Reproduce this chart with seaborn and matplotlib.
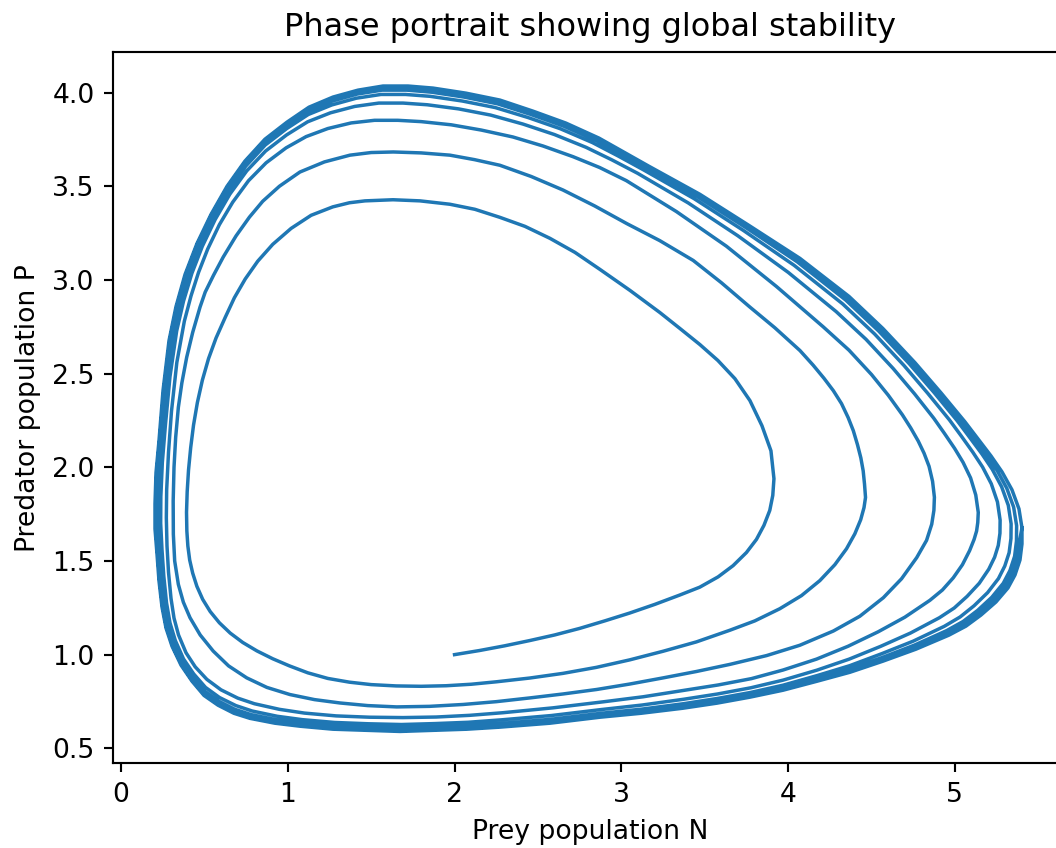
import numpy as np
import pandas as pd
import matplotlib
matplotlib.use("Agg")
import matplotlib.pyplot as plt
import seaborn as sns

# ---- trajectory: (prey N, predator P) ----
start_arc = [(2.00, 1.000), (2.15, 1.022), (2.30, 1.047), (2.45, 1.075), (2.60, 1.105), (2.75, 1.140),
             (2.90, 1.180), (3.05, 1.222), (3.20, 1.268), (3.35, 1.318), (3.47, 1.360), (3.58, 1.415),
             (3.67, 1.475), (3.75, 1.545), (3.81, 1.615), (3.855, 1.690), (3.89, 1.770), (3.908, 1.850)]

loop1 = [(3.915, 1.939), (3.897, 2.088), (3.843, 2.222), (3.771, 2.356), (3.681, 2.473), (3.579, 2.570),
         (3.471, 2.655), (3.351, 2.741), (3.231, 2.826), (3.052, 2.944), (2.872, 3.056), (2.722, 3.147),
         (2.572, 3.222), (2.422, 3.286), (2.272, 3.334), (2.122, 3.377), (1.972, 3.404), (1.793, 3.422),
         (1.631, 3.428), (1.463, 3.422), (1.370, 3.412), (1.270, 3.390), (1.140, 3.345), (1.020, 3.275),
         (0.910, 3.190), (0.820, 3.100), (0.745, 3.005), (0.680, 2.905), (0.625, 2.800), (0.570, 2.690),
         (0.525, 2.580), (0.488, 2.465), (0.458, 2.345), (0.435, 2.225), (0.418, 2.105), (0.405, 1.985),
         (0.397, 1.870), (0.393, 1.760), (0.395, 1.660), (0.401, 1.580), (0.412, 1.505), (0.430, 1.435),
         (0.455, 1.365), (0.490, 1.295), (0.535, 1.230), (0.590, 1.170), (0.655, 1.115), (0.730, 1.065),
         (0.815, 1.020), (0.910, 0.978), (1.010, 0.940), (1.120, 0.903), (1.240, 0.873), (1.370, 0.853),
         (1.500, 0.840), (1.650, 0.833), (1.800, 0.831), (1.950, 0.834), (2.100, 0.842), (2.250, 0.855),
         (2.450, 0.875), (2.650, 0.900), (2.850, 0.932), (3.050, 0.972), (3.250, 1.018), (3.450, 1.068),
         (3.650, 1.130), (3.800, 1.180), (3.950, 1.245), (4.080, 1.315), (4.190, 1.395), (4.280, 1.480),
         (4.350, 1.565), (4.400, 1.645), (4.435, 1.720), (4.455, 1.785)]

loop2 = [(4.464, 1.839), (4.458, 1.910), (4.450, 1.981), (4.436, 2.050), (4.416, 2.120), (4.391, 2.195),
         (4.360, 2.265), (4.320, 2.340), (4.271, 2.409), (4.215, 2.475), (4.150, 2.545), (4.071, 2.623),
         (3.920, 2.745), (3.771, 2.855), (3.600, 2.985), (3.431, 3.104), (3.230, 3.210), (3.032, 3.301),
         (2.840, 3.395), (2.650, 3.480), (2.460, 3.552), (2.272, 3.612), (2.120, 3.642), (1.972, 3.666),
         (1.800, 3.678), (1.633, 3.683), (1.500, 3.680), (1.373, 3.666), (1.220, 3.630), (1.073, 3.576),
         (0.950, 3.500), (0.850, 3.420), (0.770, 3.335), (0.690, 3.235), (0.613, 3.122), (0.555, 3.025),
         (0.505, 2.935), (0.474, 2.855), (0.430, 2.720), (0.394, 2.587), (0.365, 2.450), (0.344, 2.320),
         (0.328, 2.160), (0.318, 2.000), (0.313, 1.820), (0.314, 1.643), (0.322, 1.500), (0.344, 1.375),
         (0.374, 1.280), (0.414, 1.197), (0.475, 1.105), (0.553, 1.019), (0.645, 0.940), (0.754, 0.876),
         (0.875, 0.825), (1.013, 0.787), (1.160, 0.760), (1.313, 0.742), (1.480, 0.728), (1.653, 0.721),
         (1.850, 0.724), (2.052, 0.734), (2.250, 0.749), (2.452, 0.769), (2.650, 0.790), (2.852, 0.814),
         (3.050, 0.843), (3.251, 0.876), (3.450, 0.910), (3.651, 0.948), (3.871, 0.995), (4.070, 1.050),
         (4.271, 1.126), (4.430, 1.205), (4.571, 1.304), (4.680, 1.405), (4.771, 1.518), (4.830, 1.610),
         (4.861, 1.696), (4.874, 1.770)]

loop3 = [(4.877, 1.840), (4.866, 1.925), (4.845, 2.005), (4.815, 2.075), (4.780, 2.140), (4.735, 2.210),
         (4.685, 2.280), (4.600, 2.385), (4.500, 2.495), (4.365, 2.625), (4.210, 2.750), (3.930, 2.965),
         (3.630, 3.180), (3.330, 3.365), (3.030, 3.530), (2.870, 3.600), (2.710, 3.658), (2.530, 3.715),
         (2.350, 3.763), (2.160, 3.800), (1.980, 3.828), (1.800, 3.845), (1.660, 3.852), (1.520, 3.852),
         (1.380, 3.838), (1.240, 3.808), (1.110, 3.765), (0.990, 3.705), (0.870, 3.625), (0.765, 3.530),
         (0.670, 3.415), (0.590, 3.295), (0.520, 3.165), (0.465, 3.040), (0.420, 2.915), (0.380, 2.780),
         (0.335, 2.560), (0.303, 2.300), (0.285, 2.080), (0.274, 1.880), (0.272, 1.730), (0.276, 1.580),
         (0.285, 1.440), (0.300, 1.300), (0.318, 1.195), (0.345, 1.105), (0.390, 1.010), (0.445, 0.935),
         (0.515, 0.868), (0.600, 0.812), (0.700, 0.768), (0.800, 0.738), (0.950, 0.708), (1.100, 0.688),
         (1.290, 0.673), (1.490, 0.666), (1.690, 0.664), (1.890, 0.667), (2.090, 0.676), (2.290, 0.690),
         (2.590, 0.716), (2.890, 0.748), (3.130, 0.775), (3.380, 0.810), (3.580, 0.838), (3.780, 0.872),
         (3.970, 0.918), (4.170, 0.976), (4.360, 1.045), (4.540, 1.122), (4.700, 1.200), (4.850, 1.290),
         (4.925, 1.345), (4.990, 1.410), (5.045, 1.480), (5.088, 1.555), (5.115, 1.615), (5.130, 1.660),
         (5.137, 1.705)]

loop4 = [(5.140, 1.759), (5.125, 1.852), (5.094, 1.943), (5.049, 2.026), (4.998, 2.101), (4.937, 2.181),
         (4.873, 2.262), (4.758, 2.392), (4.630, 2.527), (4.467, 2.683), (4.288, 2.831), (4.001, 3.040),
         (3.698, 3.236), (3.401, 3.411), (3.098, 3.569), (2.943, 3.641), (2.788, 3.708), (2.599, 3.776),
         (2.410, 3.832), (2.216, 3.880), (2.024, 3.913), (1.836, 3.935), (1.691, 3.944), (1.546, 3.944),
         (1.401, 3.926), (1.256, 3.892), (1.119, 3.844), (0.993, 3.774), (0.867, 3.688), (0.754, 3.582),
         (0.653, 3.458), (0.565, 3.323), (0.488, 3.180), (0.425, 3.035), (0.375, 2.887), (0.334, 2.728),
         (0.294, 2.485), (0.266, 2.221), (0.248, 2.026), (0.239, 1.843), (0.238, 1.701), (0.246, 1.559),
         (0.257, 1.417), (0.273, 1.277), (0.294, 1.169), (0.326, 1.075), (0.375, 0.977), (0.436, 0.897),
         (0.507, 0.825), (0.591, 0.771), (0.689, 0.728), (0.787, 0.699), (0.937, 0.671), (1.087, 0.653),
         (1.281, 0.638), (1.483, 0.631), (1.682, 0.627), (1.881, 0.632), (2.082, 0.639), (2.281, 0.652),
         (2.581, 0.675), (2.881, 0.707), (3.124, 0.731), (3.375, 0.762), (3.577, 0.790), (3.776, 0.823),
         (3.970, 0.864), (4.172, 0.917), (4.366, 0.976), (4.554, 1.044), (4.733, 1.115), (4.907, 1.197),
         (4.996, 1.249), (5.073, 1.311), (5.146, 1.381), (5.203, 1.456), (5.238, 1.520), (5.260, 1.583),
         (5.270, 1.648)]

loop5 = [(5.271, 1.718), (5.255, 1.815), (5.218, 1.912), (5.166, 2.001), (5.107, 2.081), (5.038, 2.167),
         (4.967, 2.253), (4.837, 2.395), (4.695, 2.543), (4.518, 2.712), (4.327, 2.872), (4.036, 3.078),
         (3.732, 3.264), (3.436, 3.434), (3.132, 3.588), (2.980, 3.662), (2.827, 3.733), (2.634, 3.807),
         (2.440, 3.867), (2.244, 3.920), (2.046, 3.955), (1.854, 3.980), (1.706, 3.990), (1.559, 3.990),
         (1.411, 3.970), (1.264, 3.934), (1.123, 3.883), (0.994, 3.808), (0.865, 3.720), (0.749, 3.608),
         (0.645, 3.479), (0.553, 3.337), (0.472, 3.188), (0.405, 3.032), (0.353, 2.873), (0.311, 2.702),
         (0.273, 2.447), (0.247, 2.182), (0.229, 1.999), (0.222, 1.824), (0.221, 1.686), (0.231, 1.548),
         (0.243, 1.405), (0.260, 1.266), (0.282, 1.156), (0.316, 1.060), (0.368, 0.961), (0.431, 0.878),
         (0.503, 0.804), (0.587, 0.751), (0.683, 0.708), (0.780, 0.680), (0.930, 0.653), (1.080, 0.636),
         (1.276, 0.620), (1.479, 0.614), (1.678, 0.609), (1.876, 0.614), (2.078, 0.621), (2.277, 0.633),
         (2.577, 0.655), (2.877, 0.687), (3.121, 0.709), (3.372, 0.738), (3.575, 0.766), (3.774, 0.798),
         (3.970, 0.837), (4.173, 0.888), (4.369, 0.941), (4.561, 1.005), (4.750, 1.072), (4.936, 1.151),
         (5.031, 1.201), (5.115, 1.261), (5.196, 1.331), (5.261, 1.406), (5.299, 1.473), (5.325, 1.544),
         (5.336, 1.620)]

loop6 = [(5.337, 1.698), (5.320, 1.797), (5.280, 1.896), (5.224, 1.989), (5.162, 2.071), (5.088, 2.160),
         (5.014, 2.248), (4.877, 2.397), (4.728, 2.551), (4.543, 2.727), (4.346, 2.892), (4.054, 3.097),
         (3.749, 3.278), (3.454, 3.446), (3.149, 3.598), (2.998, 3.672), (2.847, 3.745), (2.651, 3.822),
         (2.455, 3.884), (2.258, 3.940), (2.057, 3.976), (1.863, 4.002), (1.714, 4.013), (1.565, 4.013),
         (1.416, 3.992), (1.268, 3.955), (1.125, 3.903), (0.995, 3.825), (0.864, 3.736), (0.746, 3.621),
         (0.641, 3.490), (0.547, 3.344), (0.464, 3.192), (0.395, 3.031), (0.342, 2.866), (0.300, 2.689),
         (0.263, 2.428), (0.238, 2.162), (0.220, 1.985), (0.213, 1.815), (0.213, 1.679), (0.224, 1.543),
         (0.236, 1.399), (0.253, 1.260), (0.276, 1.149), (0.311, 1.053), (0.364, 0.953), (0.429, 0.868),
         (0.501, 0.793), (0.585, 0.741), (0.680, 0.698), (0.777, 0.670), (0.927, 0.644), (1.077, 0.627),
         (1.274, 0.611), (1.477, 0.605), (1.676, 0.600), (1.874, 0.605), (2.076, 0.612), (2.275, 0.623),
         (2.575, 0.645), (2.875, 0.677), (3.120, 0.698), (3.371, 0.726), (3.574, 0.754), (3.773, 0.786),
         (3.970, 0.824), (4.173, 0.873), (4.370, 0.924), (4.565, 0.985), (4.758, 1.051), (4.950, 1.128),
         (5.049, 1.177), (5.136, 1.236), (5.221, 1.306), (5.290, 1.381), (5.330, 1.449), (5.358, 1.525),
         (5.369, 1.606)]

loop7 = [(5.370, 1.688), (5.352, 1.788), (5.311, 1.888), (5.253, 1.983), (5.189, 2.066), (5.113, 2.156),
         (5.037, 2.246), (4.897, 2.398), (4.744, 2.555), (4.556, 2.734), (4.356, 2.902), (4.063, 3.106),
         (3.757, 3.285), (3.463, 3.452), (3.157, 3.603), (3.007, 3.677), (2.857, 3.751), (2.660, 3.830),
         (2.463, 3.893), (2.265, 3.950), (2.063, 3.987), (1.867, 4.013), (1.718, 4.024), (1.568, 4.024),
         (1.419, 4.003), (1.270, 3.966), (1.126, 3.913), (0.995, 3.834), (0.864, 3.744), (0.745, 3.628),
         (0.639, 3.495), (0.544, 3.347), (0.460, 3.194), (0.390, 3.030), (0.336, 2.862), (0.294, 2.683),
         (0.258, 2.419), (0.233, 2.152), (0.215, 1.978), (0.209, 1.810), (0.209, 1.675), (0.220, 1.540),
         (0.232, 1.396), (0.250, 1.257), (0.273, 1.146), (0.309, 1.049), (0.362, 0.949), (0.428, 0.863),
         (0.500, 0.788), (0.584, 0.736), (0.679, 0.693), (0.775, 0.665), (0.925, 0.639), (1.075, 0.623),
         (1.273, 0.607), (1.476, 0.601), (1.675, 0.595), (1.873, 0.601), (2.075, 0.607), (2.274, 0.618),
         (2.574, 0.640), (2.874, 0.672), (3.119, 0.693), (3.370, 0.720), (3.574, 0.748), (3.772, 0.780),
         (3.970, 0.817), (4.173, 0.866), (4.371, 0.915), (4.567, 0.975), (4.762, 1.040), (4.957, 1.116),
         (5.058, 1.165), (5.146, 1.224), (5.234, 1.294), (5.304, 1.369), (5.345, 1.437), (5.374, 1.515),
         (5.386, 1.599)]

limit_cycle = [(5.402, 1.677), (5.384, 1.778), (5.342, 1.880), (5.282, 1.976), (5.216, 2.061), (5.138, 2.152),
               (5.060, 2.243), (4.916, 2.398), (4.760, 2.559), (4.568, 2.741), (4.365, 2.912), (4.071, 3.115),
               (3.765, 3.291), (3.471, 3.457), (3.165, 3.607), (3.016, 3.682), (2.866, 3.757), (2.668, 3.837),
               (2.470, 3.901), (2.272, 3.960), (2.068, 3.997), (1.871, 4.024), (1.721, 4.035), (1.571, 4.035),
               (1.421, 4.013), (1.271, 3.976), (1.127, 3.922), (0.995, 3.842), (0.863, 3.751), (0.743, 3.634),
               (0.636, 3.500), (0.540, 3.350), (0.456, 3.195), (0.384, 3.029), (0.330, 2.858), (0.288, 2.676),
               (0.252, 2.409), (0.228, 2.142), (0.210, 1.971), (0.204, 1.805), (0.204, 1.671), (0.216, 1.537),
               (0.228, 1.393), (0.246, 1.254), (0.270, 1.142), (0.306, 1.045), (0.360, 0.944), (0.426, 0.858),
               (0.498, 0.782), (0.582, 0.730), (0.677, 0.687), (0.773, 0.660), (0.923, 0.634), (1.073, 0.618),
               (1.271, 0.602), (1.475, 0.596), (1.673, 0.590), (1.871, 0.596), (2.074, 0.602), (2.272, 0.613),
               (2.572, 0.634), (2.872, 0.666), (3.118, 0.687), (3.369, 0.714), (3.573, 0.741), (3.771, 0.773),
               (3.969, 0.810), (4.173, 0.858), (4.371, 0.906), (4.568, 0.965), (4.766, 1.029), (4.964, 1.104),
               (5.066, 1.152), (5.156, 1.211), (5.246, 1.281), (5.318, 1.356), (5.360, 1.425), (5.390, 1.505),
               (5.402, 1.591), (5.402, 1.677)]

x_ticks = [0, 1, 2, 3, 4, 5]
y_ticks = [0.5, 1.0, 1.5, 2.0, 2.5, 3.0, 3.5, 4.0]

title = "Phase portrait showing global stability"
x_label = "Prey population N"
y_label = "Predator population P"

# ---- assemble the continuous trajectory in time order ----
segments = [start_arc, loop1, loop2, loop3, loop4, loop5, loop6, loop7, limit_cycle]
points = [pt for seg in segments for pt in seg]
df = pd.DataFrame(points, columns=["N", "P"])
df["step"] = np.arange(len(df))

DPI = 192
W, H = 1056, 848
fig = plt.figure(figsize=(W / DPI, H / DPI), dpi=DPI)
ax = fig.add_axes([113.3 / W, (H - 763.3) / H, (1067 - 113.3) / W, (763.3 - 52.3) / H])

sns.lineplot(data=df, x="N", y="P", sort=False, estimator=None,
             color="#1f77b4", linewidth=1.3, ax=ax)

ax.set_xlim(-0.046, 5.672)
ax.set_ylim(0.42, 4.215)
ax.set_xticks(x_ticks)
ax.set_yticks(y_ticks)
ax.set_title(title, fontsize=12)
ax.set_xlabel(x_label, fontsize=10)
ax.set_ylabel(y_label, fontsize=10)
ax.tick_params(labelsize=10)

fig.savefig("out.png", dpi=DPI)
